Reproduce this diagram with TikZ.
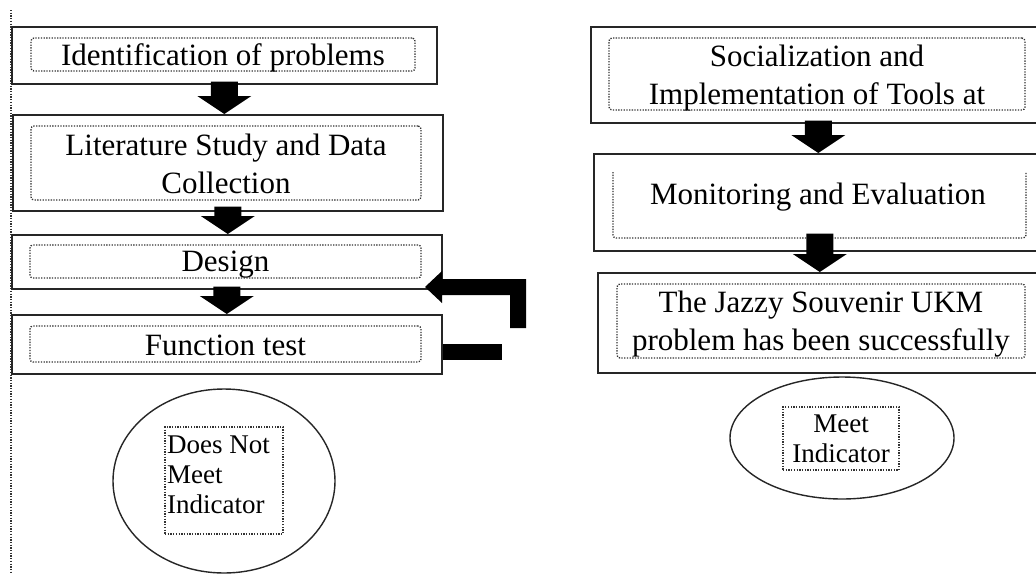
\documentclass[tikz,border=0pt]{standalone}
\usepackage{fontspec}
\setmainfont{Liberation Serif}
\usetikzlibrary{shapes.geometric,calc}
\begin{document}
\begin{tikzpicture}[x=1pt,y=-1pt,
  outerbox/.style={draw=black!85, line width=1.7pt, rectangle, inner sep=0pt, anchor=north west},
  dotline/.style={draw=black!80, line width=1.3pt, dash pattern=on 1.3pt off 1.4pt},
  dotbox/.style={dotline, rounded corners=3pt, inner sep=0pt, rectangle},
  bigtext/.style={font=\fontsize{31}{37.5}\selectfont, align=center, inner sep=0pt},
  smalltext/.style={font=\fontsize{27}{30}\selectfont},
  oval/.style={ellipse, draw=black!85, line width=1.4pt, inner sep=0pt},
  downblk/.style={to path={let \p1=(\tikztostart), \p2=(\tikztotarget) in
     (\x1-13.5pt,\y1) -- (\x1+13.5pt,\y1) -- (\x1+13.5pt,\y2+18pt) -- (\x1+27pt,\y2+18pt)
     -- (\x1,\y2) -- (\x1-27pt,\y2+18pt) -- (\x1-13.5pt,\y2+18pt) -- cycle}}
]
\useasboundingbox (0,0) rectangle (1036,574);
\clip (0,0) rectangle (1036,574);
\fill[white] (0,0) rectangle (1036,574);

% left margin dotted line
\coordinate (ltop) at (11,10);
\coordinate (lbot) at (11,574);
\draw[dotline] (ltop) -- (lbot);

% left column
\node[outerbox, minimum width=425pt, minimum height=57pt] (b1) at (11,26) {};
\node[dotbox, minimum width=384pt, minimum height=33pt] (t1) at (223,54.5) {};
\node[bigtext] (l1) at ($(t1.center)+(0,3)$) {Identification of problems};

\node[outerbox, minimum width=430pt, minimum height=96pt] (b2) at (12,114) {};
\node[dotbox, minimum width=390pt, minimum height=74pt] (t2) at (226,163) {};
\node[bigtext] (l2) at ($(t2.center)+(0,1)$) {Literature Study and Data\\Collection};

\node[outerbox, minimum width=430pt, minimum height=54pt] (b3) at (11,234) {};
\node[dotbox, minimum width=391pt, minimum height=33pt] (t3) at (225.5,261.5) {};
\node[bigtext] (l3) at ($(t3.center)+(0,3.5)$) {Design};

\node[outerbox, minimum width=430pt, minimum height=59pt] (b4) at (11,314) {};
\node[dotbox, minimum width=391pt, minimum height=36pt] (t4) at (225.5,344) {};
\node[bigtext] (l4) at ($(t4.center)+(0,1)$) {Function test};

\fill[downblk] ($(b1.south)+(0,-3)$) to (b2.north -| b1.south);
\fill[downblk] ($(b2.south)+(0,-5)$) to (b3.north -| b2.south);
\fill[downblk] ($(b3.south)+(0,-3)$) to (b4.north -| b3.south);

% feedback arrow (Function test -> Design)
\coordinate (fbtip) at (425,287);
\coordinate (fbend) at (518,328);
\fill (fbtip) -- (442,271) -- (442,279) -- (526,279) -- (526,328) -- (510,328)
      -- (510,295) -- (442,295) -- (442,303) -- cycle;
\fill ($(b4.east)+(0,-0.5)$) rectangle (502,360);

% left ellipse
\node[oval, minimum width=222pt, minimum height=184pt] (e1) at (224,481) {};
\node[dotbox, rounded corners=0pt, minimum width=118pt, minimum height=107pt] (d1) at (224,480.5) {};
\node[smalltext, align=left, anchor=north west, inner sep=0pt] (d1t) at (167,436) {Does Not\\Meet\\Indicator};

% right column
\node[outerbox, minimum width=455pt, minimum height=96pt] (r1) at (590,26) {};
\node[dotbox, minimum width=416pt, minimum height=72pt] (t5) at (817,74) {};
\node[bigtext] (l5) at ($(t5.center)+(0,4)$) {Socialization and\\Implementation of Tools at};

\node[outerbox, minimum width=452pt, minimum height=97pt] (r2) at (593,153) {};
\draw[dotline, rounded corners=3pt] (613,172) |- (1026,238) -- (1026,172);
\node[bigtext] (t6) at (818,197) {Monitoring and Evaluation};

\node[outerbox, minimum width=448pt, minimum height=100pt] (r3) at (597,272) {};
\node[dotbox, minimum width=408pt, minimum height=74pt] (t7) at (821,321) {};
\node[bigtext] (l7) at ($(t7.center)+(0,3)$) {The Jazzy Souvenir UKM\\problem has been successfully};

\fill[downblk] ($(r1.south)+(0,-3)$) to (r2.north -| r1.south);
\fill[downblk] ($(r2.south)+(0,-18)$) to (r3.north -| r1.south);

% right ellipse
\node[oval, minimum width=224pt, minimum height=122pt] (e2) at (842,438) {};
\node[dotbox, rounded corners=0pt, smalltext, align=center, minimum width=116pt, minimum height=63pt] (d2) at (841,438.5) {Meet\\Indicator};
\end{tikzpicture}
\end{document}
